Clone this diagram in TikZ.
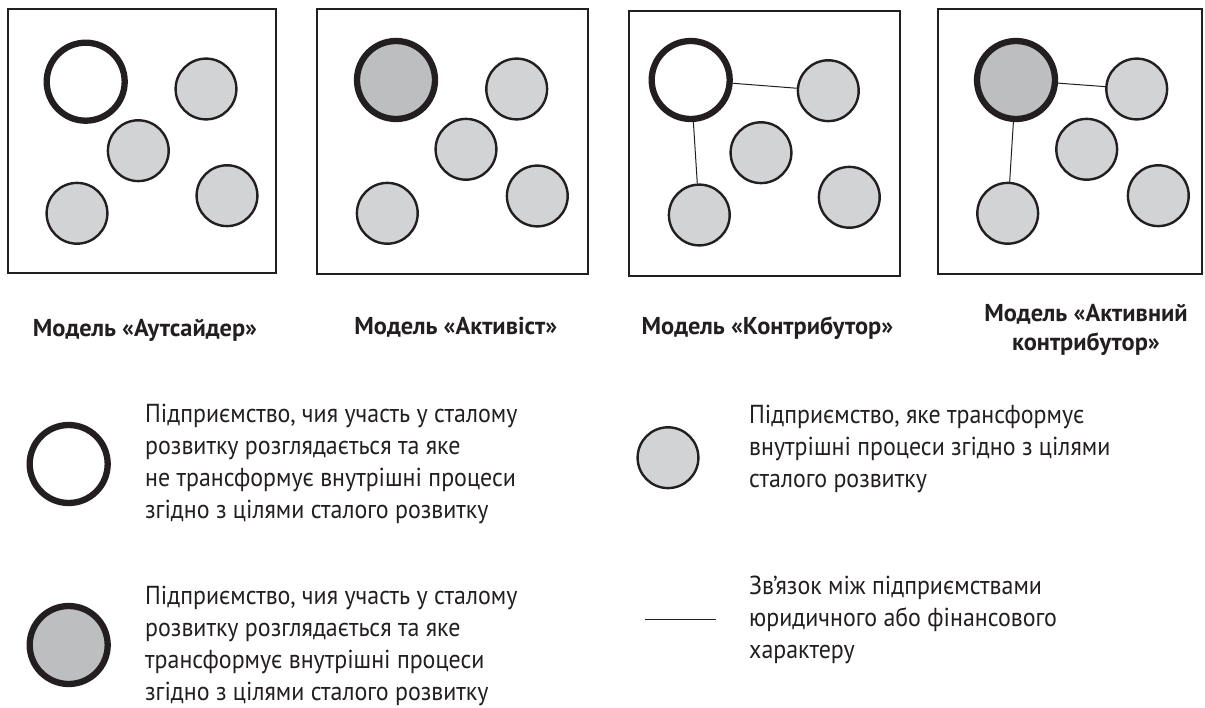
\documentclass[tikz,border=0pt]{standalone}
\usepackage{fontspec}
\setmainfont{PT Sans}
\newfontfamily\legendfont[FakeStretch=0.92]{PT Sans}
\definecolor{ink}{HTML}{231F20}
\definecolor{light}{HTML}{D1D3D4}
\definecolor{mid}{HTML}{BCBEC0}
\begin{document}
\begin{tikzpicture}[x=1pt,y=-1pt,
  frame/.style={draw=ink,line width=2pt},
  firm/.style={circle,draw=ink,fill=light,line width=2.4pt,minimum size=60.8pt,inner sep=0pt},
  bigout/.style={circle,draw=ink,fill=white,line width=6.3pt,minimum size=78pt,inner sep=0pt},
  bigin/.style={circle,draw=ink,fill=mid,line width=6.3pt,minimum size=78pt,inner sep=0pt},
  link/.style={draw=ink,line width=1pt},
  caption/.style={font=\fontsize{24.4}{29}\selectfont\bfseries,text=ink,inner sep=0pt,anchor=base,align=center},
  legend/.style={font=\legendfont\fontsize{26}{31.7}\selectfont,text=ink,inner sep=0pt,anchor=base west,align=left}]
\useasboundingbox (0,0) rectangle (1205,708);
% frames
\draw[frame] (7.5,9.3) rectangle (276,273.5);
\draw[frame] (317.3,9.3) rectangle (588.3,274.3);
\draw[frame] (629.3,10.7) rectangle (900,275.7);
\draw[frame] (938.3,9.3) rectangle (1202,274);
% box 1
\node[bigout] (o1) at (85.7,81.7) {};
\node[firm] (a1) at (206,89) {};
\node[firm] (b1) at (138.3,150.7) {};
\node[firm] (c1) at (77,213.3) {};
\node[firm] (d1) at (227,195.7) {};
% box 2
\node[bigin] (o2) at (396,80) {};
\node[firm] (a2) at (516.7,89) {};
\node[firm] (b2) at (466,149.3) {};
\node[firm] (c2) at (387.3,213.3) {};
\node[firm] (d2) at (537.3,196) {};
% box 3
\node[bigout] (o3) at (690.7,80) {};
\node[firm] (a3) at (828.3,90.7) {};
\node[firm] (b3) at (761,152.7) {};
\node[firm] (c3) at (699.3,215) {};
\node[firm] (d3) at (849.3,197.3) {};
\draw[link] (o3) -- (a3);
\draw[link] (o3) -- (c3);
% box 4
\node[bigin] (o4) at (1016,80) {};
\node[firm] (a4) at (1136.7,89) {};
\node[firm] (b4) at (1086.7,149.3) {};
\node[firm] (c4) at (1007.7,213.3) {};
\node[firm] (d4) at (1158.3,195.7) {};
\draw[link] (o4) -- (a4);
\draw[link] (o4) -- (c4);
% captions (base anchor = last line)
\node[caption] (k1) at (145,336.5) {Модель «Аутсайдер»};
\node[caption] (k2) at (455.8,335) {Модель «Активіст»};
\node[caption] (k3) at (767.5,335) {Модель «Контрибутор»};
\node[caption] (k4) at (1086,351) {Модель «Активний\\контрибутор»};
% legend
\node[bigout] (lc1) at (68.7,464) {};
\node[bigin] (lc2) at (68.7,645) {};
\node[firm] (lc3) at (668,457.7) {};
\coordinate (l1) at (645,619);
\coordinate (l2) at (716,619);
\draw[link] (l1) -- (l2);
\node[legend] (t1) at (145,518) {Підприємство, чия участь у сталому\\розвитку розглядається та яке\\не трансформує внутрішні процеси\\згідно з цілями сталого розвитку};
\node[legend] (t2) at (145,700) {Підприємство, чия участь у сталому\\розвитку розглядається та яке\\трансформує внутрішні процеси\\згідно з цілями сталого розвитку};
\node[legend] (t3) at (749,487) {Підприємство, яке трансформує\\внутрішні процеси згідно з цілями\\сталого розвитку};
\node[legend] (t4) at (749,658) {Зв’язок між підприємствами\\юридичного або фінансового\\характеру};
\end{tikzpicture}
\end{document}
